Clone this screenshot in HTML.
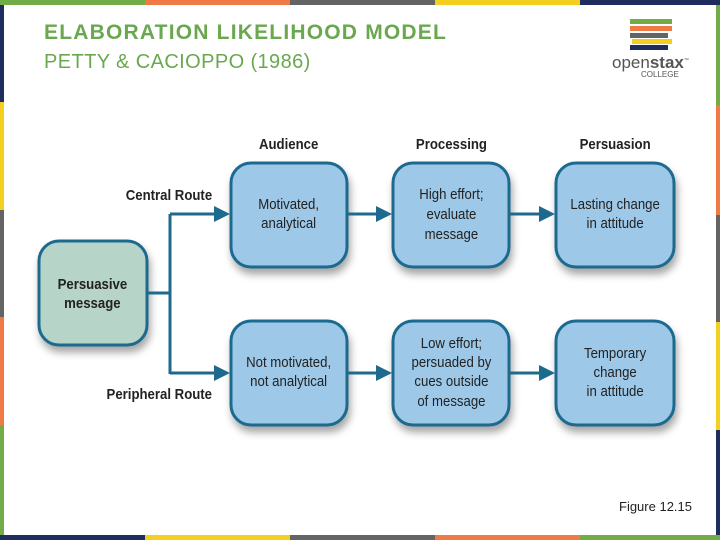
<!DOCTYPE html>
<html><head><style>
body{margin:0;width:720px;height:540px;position:relative;overflow:hidden;background:#fff;font-family:"Liberation Sans",sans-serif}
.b{position:absolute}
</style></head><body>
<div class="b" style="left:0;top:0;width:145px;height:5px;background:#72ac47"></div>
<div class="b" style="left:145px;top:0;width:145px;height:5px;background:#ef7a45"></div>
<div class="b" style="left:290px;top:0;width:145px;height:5px;background:#646464"></div>
<div class="b" style="left:435px;top:0;width:145px;height:5px;background:#f4cf1f"></div>
<div class="b" style="left:580px;top:0;width:140px;height:5px;background:#1f2d5e"></div>
<div class="b" style="left:0;top:535px;width:145px;height:5px;background:#1f2d5e"></div>
<div class="b" style="left:145px;top:535px;width:145px;height:5px;background:#f4cf1f"></div>
<div class="b" style="left:290px;top:535px;width:145px;height:5px;background:#646464"></div>
<div class="b" style="left:435px;top:535px;width:145px;height:5px;background:#ef7a45"></div>
<div class="b" style="left:580px;top:535px;width:140px;height:5px;background:#72ac47"></div>
<div class="b" style="left:0;top:5px;width:4px;height:97px;background:#1f2d5e"></div>
<div class="b" style="left:0;top:102px;width:4px;height:108px;background:#f4cf1f"></div>
<div class="b" style="left:0;top:210px;width:4px;height:107px;background:#646464"></div>
<div class="b" style="left:0;top:317px;width:4px;height:108px;background:#ef7a45"></div>
<div class="b" style="left:0;top:425px;width:4px;height:110px;background:#72ac47"></div>
<div class="b" style="left:716px;top:5px;width:4px;height:100px;background:#72ac47"></div>
<div class="b" style="left:716px;top:105px;width:4px;height:110px;background:#ef7a45"></div>
<div class="b" style="left:716px;top:215px;width:4px;height:107px;background:#646464"></div>
<div class="b" style="left:716px;top:322px;width:4px;height:108px;background:#f4cf1f"></div>
<div class="b" style="left:716px;top:430px;width:4px;height:105px;background:#1f2d5e"></div>

<div class="b" style="left:44px;top:21px;font-size:21px;font-weight:bold;color:#6aa84f;letter-spacing:1.2px;white-space:nowrap">ELABORATION LIKELIHOOD MODEL</div>
<div class="b" style="left:44px;top:51px;font-size:20px;color:#6aa84f;letter-spacing:0.4px;white-space:nowrap">PETTY &amp; CACIOPPO (1986)</div>

<div class="b" style="left:630px;top:19px;width:42px;height:5px;background:#72ac47"></div>
<div class="b" style="left:630px;top:26px;width:42px;height:5px;background:#ef7a45"></div>
<div class="b" style="left:630px;top:33px;width:38px;height:5px;background:#646464"></div>
<div class="b" style="left:632px;top:39px;width:40px;height:5px;background:#f4cf1f"></div>
<div class="b" style="left:630px;top:45px;width:38px;height:5px;background:#1f2d5e"></div>
<div class="b" style="left:612px;top:53px;font-size:17px;color:#555">open<b>stax</b><sup style="font-size:5px">™</sup></div>
<div class="b" style="left:641px;top:70px;font-size:8px;color:#555">COLLEGE</div>

<svg class="b" style="left:0;top:0" width="720" height="540">
<defs><filter id="s" x="-20%" y="-20%" width="140%" height="150%"><feDropShadow dx="2" dy="6" stdDeviation="4" flood-color="#000" flood-opacity="0.35"/></filter></defs>
<g stroke="#1d6a8e" stroke-width="3" filter="url(#s)">
<rect x="39" y="241" width="108" height="104" rx="20" fill="#b7d4c9"/>
<rect x="231" y="163" width="116" height="104" rx="20" fill="#9dc8e8"/>
<rect x="393" y="163" width="116" height="104" rx="20" fill="#9dc8e8"/>
<rect x="556" y="163" width="118" height="104" rx="20" fill="#9dc8e8"/>
<rect x="231" y="321" width="116" height="104" rx="20" fill="#9dc8e8"/>
<rect x="393" y="321" width="116" height="104" rx="20" fill="#9dc8e8"/>
<rect x="556" y="321" width="118" height="104" rx="20" fill="#9dc8e8"/>
</g>
<g stroke="#1d6a8e" stroke-width="3" fill="none">
<path d="M148 293H170M170 214V374M170 214H216M170 373H216M348 214H377M510 214H540M348 373H377M510 373H540"/>
</g>
<g fill="#1d6a8e">
<path d="M230 214l-16-8v16z"/><path d="M230 373l-16-8v16z"/>
<path d="M392 214l-16-8v16z"/><path d="M392 373l-16-8v16z"/>
<path d="M555 214l-16-8v16z"/><path d="M555 373l-16-8v16z"/>
</g>
<g font-family="Liberation Sans Narrow,Liberation Sans,sans-serif" text-anchor="middle" fill="#222">
<g font-size="15" font-weight="bold" transform="scale(0.88,1)">
<text x="328" y="149">Audience</text><text x="513" y="149">Processing</text><text x="699" y="149">Persuasion</text>
<text x="192" y="200">Central Route</text><text x="181" y="399">Peripheral Route</text>
<text x="105" y="289">Persuasive</text><text x="105" y="308">message</text>
</g>
<g font-size="15" transform="scale(0.88,1)">
<text x="328" y="209">Motivated,</text><text x="328" y="228">analytical</text>
<text x="513" y="199">High effort;</text><text x="513" y="219">evaluate</text><text x="513" y="239">message</text>
<text x="699" y="209">Lasting change</text><text x="699" y="228">in attitude</text>
<text x="328" y="367">Not motivated,</text><text x="328" y="386">not analytical</text>
<text x="513" y="348">Low effort;</text><text x="513" y="367">persuaded by</text><text x="513" y="386">cues outside</text><text x="513" y="406">of message</text>
<text x="699" y="358">Temporary</text><text x="699" y="377">change</text><text x="699" y="396">in attitude</text>
</g>
</g>
<text x="619" y="511" font-size="13" fill="#222" font-family="Liberation Sans,sans-serif">Figure 12.15</text>
</svg>
</body></html>
